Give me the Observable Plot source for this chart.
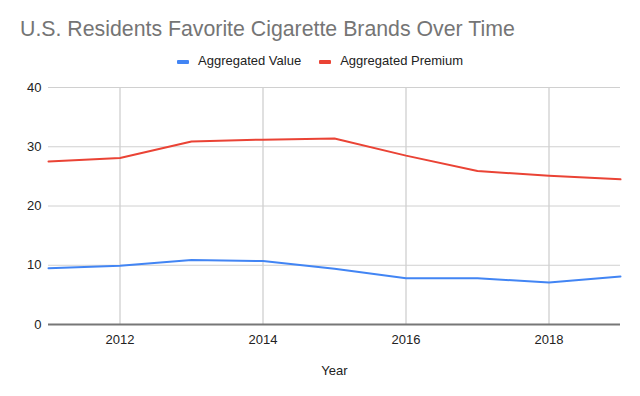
<!DOCTYPE html>
<html><head><meta charset="utf-8">
<script src="https://cdn.jsdelivr.net/npm/d3@7"></script>
<script src="https://cdn.jsdelivr.net/npm/@observablehq/plot@0.6"></script>
<style>
body{margin:0;background:#fff;font-family:"Liberation Sans",Arial,sans-serif;}
#wrap{position:relative;width:640px;height:396px;overflow:hidden;}
#title{position:absolute;left:20px;top:17px;font-size:21.3px;color:#757575;white-space:nowrap;line-height:normal;}
#legend{position:absolute;left:0;top:53px;width:640px;text-align:center;font-size:13px;color:#222;white-space:nowrap;}
.sw{display:inline-block;width:12px;height:4px;border-radius:1px;vertical-align:middle;margin-right:9px;}
.item{display:inline-block;margin:0 9px;}
#chart{position:absolute;left:0;top:75px;}
</style></head>
<body><div id="wrap">
<div id="title">U.S. Residents Favorite Cigarette Brands Over Time</div>
<div id="legend"></div>
<div id="chart"></div>
</div>
<script>
const years = [2011, 2012, 2013, 2014, 2015, 2016, 2017, 2018, 2019];
const aggregatedValue = [9.5, 9.9, 10.9, 10.7, 9.4, 7.8, 7.8, 7.1, 8.1];
const aggregatedPremium = [27.5, 28.1, 30.9, 31.2, 31.4, 28.5, 25.9, 25.1, 24.5];
const seriesNames = ["Aggregated Value", "Aggregated Premium"];
const seriesColors = ["#4285f4", "#ea4335"];
const xTicks = [2012, 2014, 2016, 2018];
const yTicks = [0, 10, 20, 30, 40];

const data = [];
years.forEach((y, i) => {
  data.push({year: y, value: aggregatedValue[i], series: seriesNames[0]});
  data.push({year: y, value: aggregatedPremium[i], series: seriesNames[1]});
});

const leg = document.getElementById("legend");
seriesNames.forEach((n, i) => {
  const s = document.createElement("span");
  s.className = "item";
  s.innerHTML = `<span class="sw" style="background:${seriesColors[i]}"></span>${n}`;
  leg.appendChild(s);
});

const chart = Plot.plot({
  width: 640,
  height: 321,
  marginTop: 12,
  marginBottom: 72,
  marginLeft: 48,
  marginRight: 20,
  style: {fontFamily: "Liberation Sans, Arial, sans-serif", fontSize: "13px", color: "#222", background: "#fff"},
  x: {domain: [2011, 2019]},
  y: {domain: [0, 40]},
  color: {domain: seriesNames, range: seriesColors},
  marks: [
    Plot.gridX(xTicks, {stroke: "#d0d0d0", strokeOpacity: 1, strokeWidth: 1.3}),
    Plot.gridY(yTicks.filter(d => d > 0), {stroke: "#d0d0d0", strokeOpacity: 1, strokeWidth: 1}),
    Plot.axisX(xTicks, {tickSize: 0, tickPadding: 10, tickFormat: d => String(d), fill: "#222", fontSize: 13, label: null}),
    Plot.axisY(yTicks, {tickSize: 0, tickPadding: 7, fill: "#222", fontSize: 13, label: null}),
    Plot.text(["Year"], {frameAnchor: "bottom", lineAnchor: "middle", dy: 46, fill: "#222", fontSize: 13}),
    Plot.ruleY([0], {stroke: "#777", strokeWidth: 2}),
    Plot.line(data, {x: "year", y: "value", z: "series", stroke: "series", strokeWidth: 2})
  ]
});
document.getElementById("chart").appendChild(chart);
</script>
</body></html>
